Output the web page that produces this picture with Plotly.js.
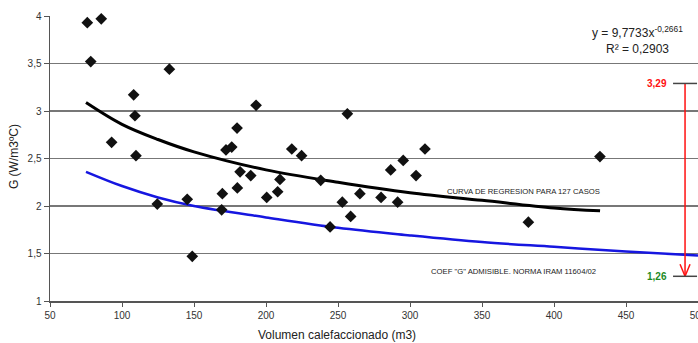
<!DOCTYPE html>
<html>
<head>
<meta charset="utf-8">
<script src="https://cdn.plot.ly/plotly-3.0.1.min.js"></script>
<style>html,body{margin:0;padding:0;background:#fff;}#chart{width:698px;height:343px;}</style>
</head>
<body>
<div id="chart"></div>
<script>
// Observed cases: heated volume (m3) vs G (W/m3ºC)
const volumen = [75.9, 85.6, 78.3, 132.9, 108.1, 109.0, 92.8, 109.7, 124.5, 145.3, 148.8, 169.2, 169.7, 172.2, 176.2, 179.9, 180.1, 182.0, 189.4, 193.1, 200.5, 208.1, 209.7, 217.9, 224.7, 238.0, 244.5, 253.0, 256.5, 258.8, 265.2, 279.9, 286.6, 291.4, 295.3, 304.2, 310.4, 382.2, 431.9];
const gValor  = [3.93, 3.97, 3.52, 3.44, 3.17, 2.95, 2.67, 2.53, 2.02, 2.07, 1.47, 1.96, 2.13, 2.59, 2.62, 2.82, 2.19, 2.36, 2.32, 3.06, 2.09, 2.15, 2.28, 2.60, 2.53, 2.27, 1.78, 2.04, 2.97, 1.89, 2.13, 2.09, 2.38, 2.04, 2.48, 2.32, 2.60, 1.83, 2.52];

// Regression curve
const regX = [75, 100, 125, 150, 200, 250, 300, 350, 400, 432];
const regY = [3.09, 2.86, 2.70, 2.57, 2.38, 2.25, 2.14, 2.06, 1.98, 1.95];

// Admissible G curve, IRAM 11604/02
const admX = [75, 100, 125, 150, 200, 250, 300, 350, 400, 450, 500];
const admY = [2.36, 2.21, 2.09, 2.00, 1.88, 1.77, 1.69, 1.62, 1.57, 1.52, 1.48];

// Range limits marked at the right
const limiteSup = 3.29;
const limiteInf = 1.26;
const limiteSupTxt = "3,29";
const limiteInfTxt = "1,26";

const xTicks = [50, 100, 150, 200, 250, 300, 350, 400, 450, 500];
const yTicks = [1, 1.5, 2, 2.5, 3, 3.5, 4];

const FONT = "Arial, 'Liberation Sans', sans-serif";
const arrowX = 491;

const traces = [
  {x: admX, y: admY, mode: 'lines', line: {color: '#1616e0', width: 2.5, shape: 'spline'}, hoverinfo: 'skip'},
  {x: regX, y: regY, mode: 'lines', line: {color: '#000', width: 3, shape: 'spline'}, hoverinfo: 'skip'},
  {x: volumen, y: gValor, mode: 'markers', cliponaxis: false, marker: {symbol: 'diamond', size: 9, color: '#111'}}
];

const layout = {
  width: 698, height: 343,
  margin: {l: 50, r: 0, t: 16, b: 42},
  paper_bgcolor: '#fff', plot_bgcolor: '#fff',
  showlegend: false,
  separators: ', ',
  font: {family: FONT, color: '#333'},
  xaxis: {
    range: [50, 500], tickvals: xTicks, showgrid: false, zeroline: false,
    showline: true, linecolor: '#555', linewidth: 1.5,
    ticks: 'outside', ticklen: 4, tickcolor: '#555', tickwidth: 1,
    ticklabeloverflow: 'allow',
    tickfont: {family: FONT, size: 10, color: '#333'}
  },
  yaxis: {
    range: [1, 4], tickvals: yTicks, showgrid: true, gridcolor: '#777', gridwidth: 1.5,
    zeroline: false, showline: true, linecolor: '#555', linewidth: 1.5,
    ticks: 'outside', ticklen: 5, tickcolor: '#555', tickwidth: 1,
    tickfont: {family: FONT, size: 10, color: '#333'}
  },
  shapes: [
    {type: 'line', xref: 'x', yref: 'y', x0: arrowX, x1: arrowX, y0: limiteSup, y1: limiteInf, line: {color: '#ff1010', width: 1.5}},
    {type: 'line', xref: 'x', yref: 'y', xsizemode: 'pixel', ysizemode: 'pixel', xanchor: arrowX, yanchor: limiteInf, x0: -5, x1: 0, y0: 12, y1: 0, line: {color: '#ff1010', width: 1.5}},
    {type: 'line', xref: 'x', yref: 'y', xsizemode: 'pixel', ysizemode: 'pixel', xanchor: arrowX, yanchor: limiteInf, x0: 5, x1: 0, y0: 12, y1: 0, line: {color: '#ff1010', width: 1.5}},
    {type: 'line', xref: 'x', yref: 'y', xsizemode: 'pixel', xanchor: arrowX, x0: -12, x1: 12, y0: limiteSup, y1: limiteSup, line: {color: '#444', width: 1.5}},
    {type: 'line', xref: 'x', yref: 'y', xsizemode: 'pixel', xanchor: arrowX, x0: -12, x1: 12, y0: limiteInf, y1: limiteInf, line: {color: '#444', width: 1.5}}
  ],
  annotations: [
    {xref: 'paper', yref: 'paper', x: 0.443, xanchor: 'center', y: 0, yanchor: 'middle', yshift: -34, showarrow: false, text: 'Volumen calefaccionado (m3)', font: {family: FONT, size: 12, color: '#222'}},
    {xref: 'paper', yref: 'paper', x: 0, xanchor: 'center', xshift: -36, y: 0.505, yanchor: 'middle', textangle: -90, showarrow: false, text: 'G (W/m3ºC)', font: {family: FONT, size: 12, color: '#222'}},
    {xref: 'paper', yref: 'paper', x: 0.907, xanchor: 'center', y: 0.944, yanchor: 'middle', showarrow: false, text: 'y = 9,7733x<sup>-0,2661</sup>', font: {family: FONT, size: 12, color: '#222'}},
    {xref: 'paper', yref: 'paper', x: 0.907, xanchor: 'center', y: 0.883, yanchor: 'middle', showarrow: false, text: 'R² = 0,2903', font: {family: FONT, size: 12, color: '#222'}},
    {xref: 'x', yref: 'y', x: 324, y: 2.15, xanchor: 'left', showarrow: false, text: 'CURVA DE REGRESION PARA 127 CASOS', font: {family: FONT, size: 7.7, color: '#222'}},
    {xref: 'x', yref: 'y', x: 313, y: 1.31, xanchor: 'left', showarrow: false, text: 'COEF "G" ADMISIBLE. NORMA IRAM 11604/02', font: {family: FONT, size: 7.7, color: '#222'}},
    {xref: 'x', yref: 'y', x: arrowX, y: limiteSup, xanchor: 'right', xshift: -16, showarrow: false, text: '<b>' + limiteSupTxt + '</b>', font: {family: FONT, size: 10, color: '#ff1010'}},
    {xref: 'x', yref: 'y', x: arrowX, y: limiteInf, xanchor: 'right', xshift: -16, showarrow: false, text: '<b>' + limiteInfTxt + '</b>', font: {family: FONT, size: 10, color: '#1e8a1e'}}
  ]
};

Plotly.newPlot('chart', traces, layout, {displayModeBar: false, staticPlot: true});
</script>
</body>
</html>
